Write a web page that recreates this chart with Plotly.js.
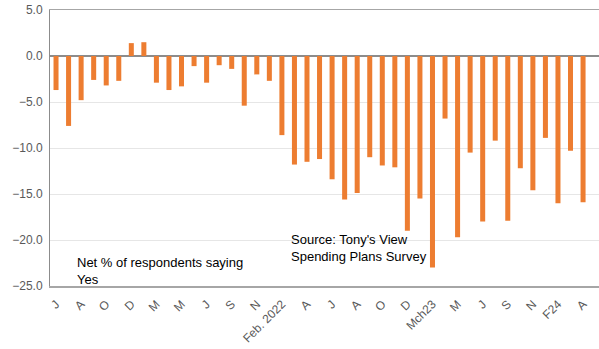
<!DOCTYPE html>
<html>
<head>
<meta charset="utf-8">
<script src="https://cdn.plot.ly/plotly-3.0.1.min.js"></script>
<style>html,body{margin:0;padding:0;background:#fff;}#chart{width:599px;height:349px;}</style>
</head>
<body>
<div id="chart"></div>
<script>
// Net % of respondents saying Yes, monthly survey (43 readings)
const values = [
  -3.7, -7.6, -4.8, -2.6, -3.2, -2.7, 1.4, 1.5, -2.9, -3.7,
  -3.3, -1.1, -2.9, -1.0, -1.4, -5.4, -2.0, -2.7, -8.6, -11.8,
  -11.5, -11.2, -13.4, -15.6, -14.9, -11.0, -11.9, -12.1, -19.0, -15.5,
  -23.0, -6.8, -19.7, -10.5, -18.0, -9.2, -17.9, -12.2, -14.6, -8.9,
  -16.0, -10.3, -15.9
];
// Tick labels shown on every second bar
const tickLabels = ["J","A","O","D","M","M","J","S","N","Feb. 2022","A","J","A","O","D","Mch23","M","J","S","N","F24","A"];
const positions = values.map((v, i) => i);
const tickPositions = tickLabels.map((t, i) => i * 2);

const font = "Liberation Sans, Arial, sans-serif";

Plotly.newPlot('chart', [{
  type: 'bar',
  x: positions,
  y: values,
  width: 0.4,
  marker: {color: '#ED7D31'},
  hoverinfo: 'y'
}], {
  width: 599, height: 349,
  margin: {l: 50, r: 0, t: 10, b: 63},
  paper_bgcolor: '#fff', plot_bgcolor: '#fff',
  showlegend: false,
  font: {family: font, size: 12, color: '#595959'},
  xaxis: {
    range: [-0.48, 43.27],
    tickvals: tickPositions,
    ticktext: tickLabels,
    tickangle: -45,
    tickfont: {family: font, size: 12, color: '#595959'},
    showgrid: false, zeroline: false,
    showline: true, mirror: true, linecolor: '#a6a6a6', linewidth: 1.5,
    ticks: '', ticklabelstandoff: 5
  },
  yaxis: {
    range: [-25, 5],
    dtick: 5,
    tickformat: '.1f',
    tickfont: {family: font, size: 12, color: '#595959'},
    showgrid: true, gridcolor: '#e6e6e6', gridwidth: 1,
    zeroline: true, zerolinecolor: '#8c8c8c', zerolinewidth: 1.5,
    showline: true, linecolor: '#8c8c8c', linewidth: 1,
    ticks: '', ticklabelstandoff: 4
  },
  annotations: [
    {xref: 'paper', yref: 'paper', x: 0.0455, y: 0.118, xanchor: 'left', yanchor: 'top', align: 'left',
     showarrow: false, text: 'Net % of respondents saying<br>Yes', font: {family: font, size: 13, color: '#000'}},
    {xref: 'paper', yref: 'paper', x: 0.435, y: 0.203, xanchor: 'left', yanchor: 'top', align: 'left',
     showarrow: false, text: "Source: Tony's View<br>Spending Plans Survey", font: {family: font, size: 13, color: '#000'}}
  ]
}, {displayModeBar: false, staticPlot: true});
</script>
</body>
</html>
